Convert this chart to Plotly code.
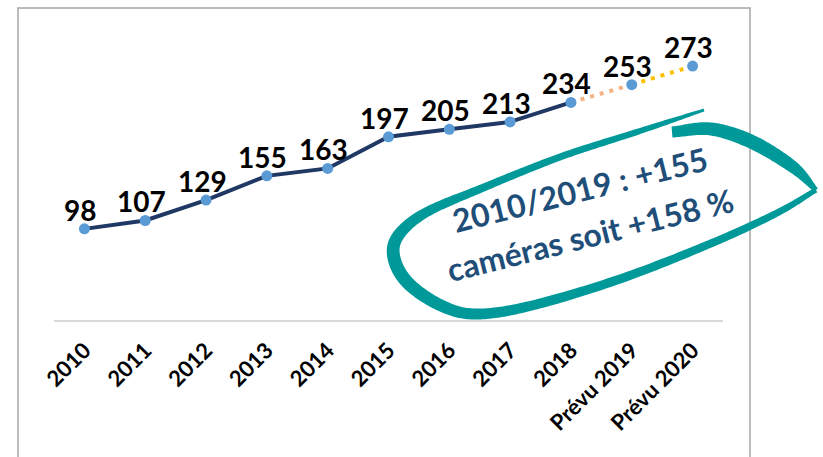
import numpy as np
import plotly.graph_objects as go

categories = ["2010", "2011", "2012", "2013", "2014", "2015", "2016", "2017", "2018",
              "Prévu 2019", "Prévu 2020"]
values = [98, 107, 129, 155, 163, 197, 205, 213, 234, 253, 273]

note_line1 = "2010/2019 : +155"
note_line2 = "caméras soit +158 %"

W, H = 823, 457
ML, MR, MT, MB = 54, 100, 41, 137
PW, PH = W - ML - MR, H - MT - MB


def to_paper(px, py):
    return (px - ML) / PW, (H - MB - py) / PH


def catmull(pts, n=24):
    P = np.array(pts, float)
    P = np.vstack([P[0] * 2 - P[1], P, P[-1] * 2 - P[-2]])
    out = []
    for i in range(1, len(P) - 2):
        p0, p1, p2, p3 = P[i - 1], P[i], P[i + 1], P[i + 2]
        for t in np.linspace(0, 1, n, endpoint=False):
            t2, t3 = t * t, t * t * t
            out.append(0.5 * ((2 * p1) + (-p0 + p2) * t + (2 * p0 - 5 * p1 + 4 * p2 - p3) * t2
                              + (-p0 + 3 * p1 - 3 * p2 + p3) * t3))
    out.append(P[-2])
    return np.array(out)


def stroke_path(pts):
    c = catmull(pts)
    xy, w = c[:, :2], np.maximum(c[:, 2], 1)
    tg = np.gradient(xy, axis=0)
    tg /= np.linalg.norm(tg, axis=1, keepdims=True)
    nrm = np.column_stack([-tg[:, 1], tg[:, 0]])
    left = xy + nrm * w[:, None] / 2
    right = xy - nrm * w[:, None] / 2
    poly = np.vstack([left, right[::-1]])
    s = []
    for i, (px, py) in enumerate(poly):
        x, y = to_paper(px, py)
        s.append(("M" if i == 0 else "L") + f"{x:.5f},{y:.5f}")
    return " ".join(s) + " Z"


# decorative hand-drawn loop (pixel x, pixel y, stroke width)
loop_a = [(704, 110, 3), (640, 131, 6), (560, 157, 7), (480, 189, 8), (425, 213, 10),
          (398, 236, 12), (394, 258, 13), (408, 283, 13), (440, 305, 12), (475, 314, 11),
          (530, 306, 10), (620, 279, 9), (712, 243, 8), (777, 213, 7), (816, 190, 5)]
loop_b = [(816, 190, 5), (793, 167, 12), (752, 142, 14), (711, 129, 13), (672, 132, 11)]

teal = "#00999A"
label_font = dict(family="Lato", size=28, color="black", weight="bold")

fig = go.Figure()
fig.add_trace(go.Scatter(x=categories[:9], y=values[:9], mode="lines",
                         line=dict(color="#1F3864", width=4), hoverinfo="skip"))
fig.add_trace(go.Scatter(x=categories[8:10], y=values[8:10], mode="lines",
                         line=dict(color="#F4B183", width=4, dash="4px,6px"), hoverinfo="skip"))
fig.add_trace(go.Scatter(x=categories[9:11], y=values[9:11], mode="lines",
                         line=dict(color="#FFC000", width=4, dash="4px,6px"), hoverinfo="skip"))
fig.add_trace(go.Scatter(x=categories, y=values, mode="markers",
                         marker=dict(color="#5B9BD5", size=11)))

shapes = [
    dict(type="rect", xref="paper", yref="paper",
         x0=to_paper(18, 0)[0], x1=to_paper(750, 0)[0],
         y0=to_paper(0, 520)[1], y1=to_paper(0, 8)[1],
         line=dict(color="#A6A6A6", width=1.5), layer="below"),
    dict(type="path", xref="paper", yref="paper", path=stroke_path(loop_a),
         fillcolor=teal, line=dict(width=0)),
    dict(type="path", xref="paper", yref="paper", path=stroke_path(loop_b),
         fillcolor=teal, line=dict(width=0)),
]

annotations = [
    dict(x=i, y=v, xref="x", yref="y", text=str(v), showarrow=False,
         xanchor="center", yanchor="bottom", xshift=-4, yshift=0, font=label_font)
    for i, v in enumerate(values)
]

ax1, ay1 = to_paper(579, 189)
ax2, ay2 = to_paper(590, 234)
annotations += [
    dict(x=ax1, y=ay1, xref="paper", yref="paper", text=note_line1, showarrow=False,
         textangle=-14, xanchor="center", yanchor="middle",
         font=dict(family="Lato", size=32, color="#1F4E79", weight="bold")),
    dict(x=ax2, y=ay2, xref="paper", yref="paper", text=note_line2, showarrow=False,
         textangle=-14, xanchor="center", yanchor="middle",
         font=dict(family="Lato", size=32, color="#1F4E79", weight="bold")),
]

fig.update_layout(
    width=W, height=H,
    margin=dict(l=ML, r=MR, t=MT, b=MB),
    paper_bgcolor="white", plot_bgcolor="white",
    showlegend=False,
    shapes=shapes, annotations=annotations,
    xaxis=dict(type="category", range=[-0.5, 10.5], showline=True, linecolor="#D9D9D9",
               linewidth=1.5, showgrid=False, zeroline=False, tickangle=-45,
               ticks="outside", ticklen=7, tickcolor="rgba(0,0,0,0)",
               tickfont=dict(family="Lato", size=22, color="black", weight="bold")),
    yaxis=dict(range=[0, 300], visible=False, fixedrange=True),
)

fig.write_html("out.html", config={"displayModeBar": False},
               post_script="document.body.style.margin='0';document.body.style.padding='0';")
